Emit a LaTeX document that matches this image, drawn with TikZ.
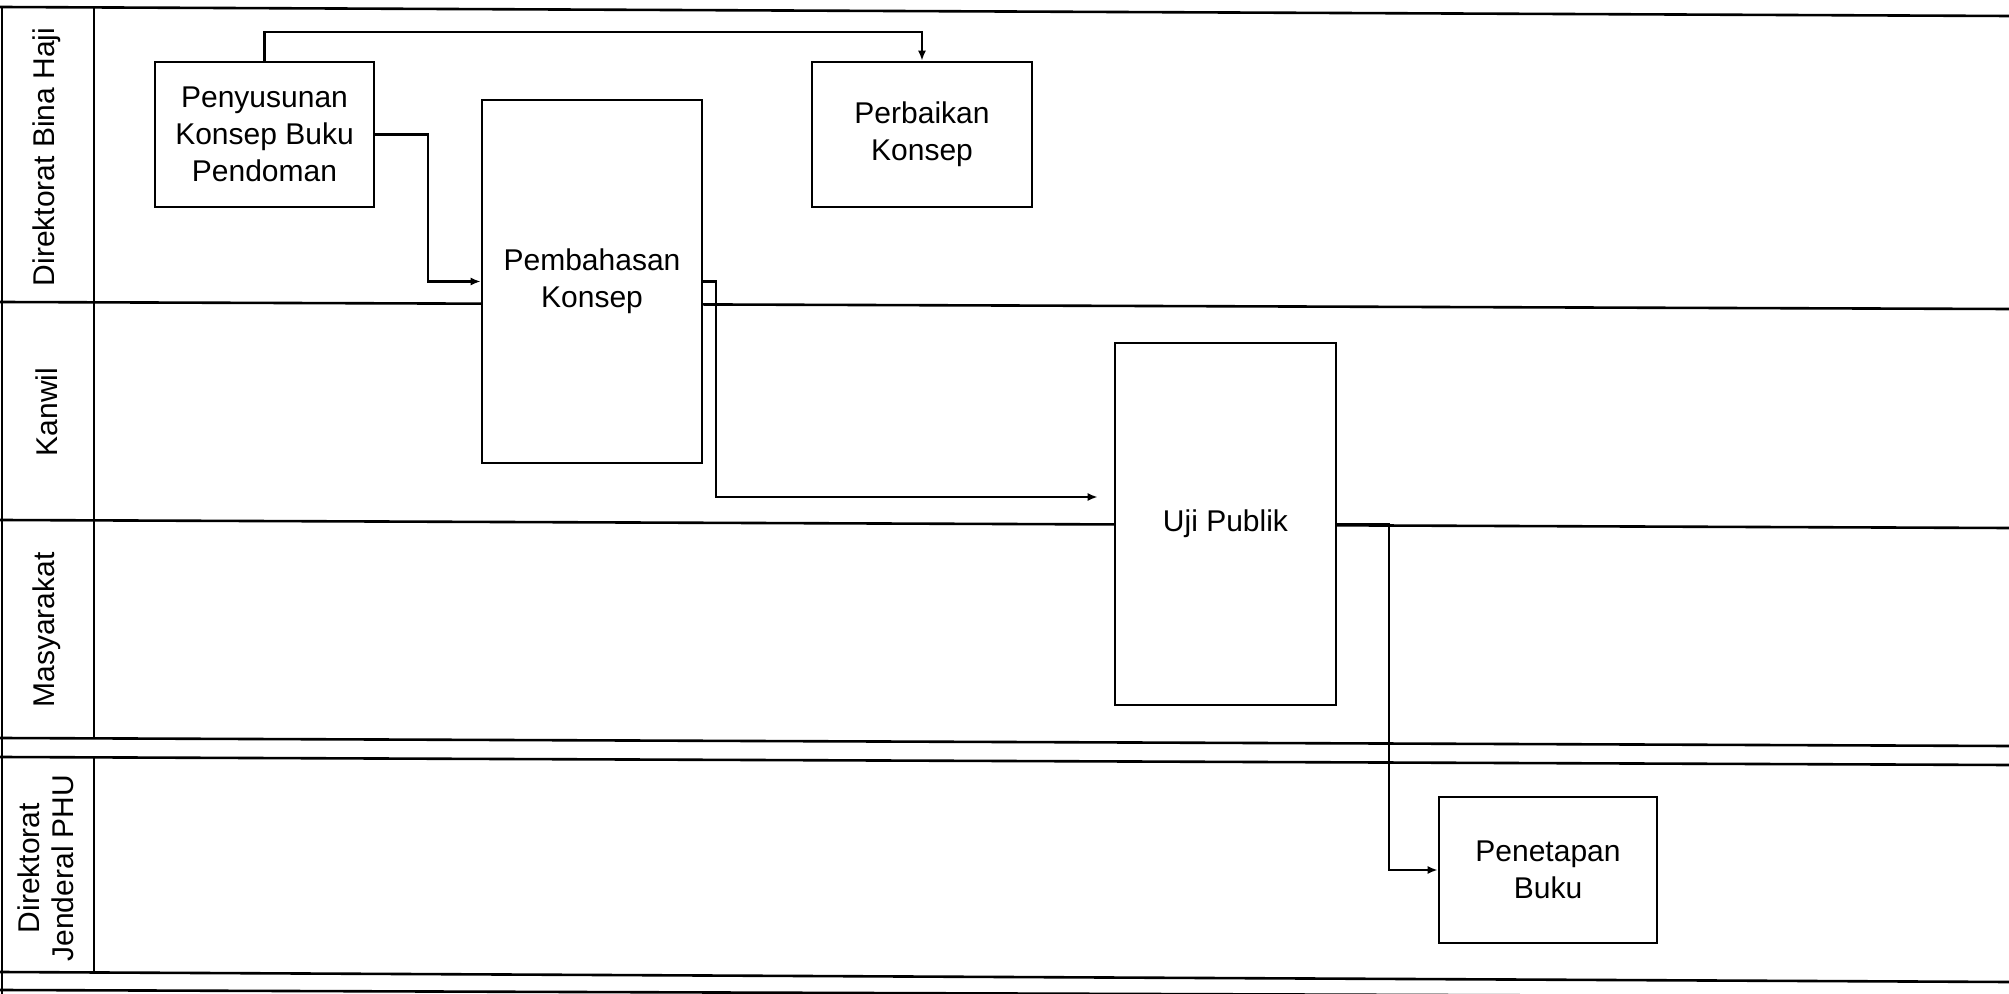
\documentclass[tikz,border=0pt]{standalone}
\usepackage{fontspec}
\setmainfont{Liberation Sans}
\usetikzlibrary{arrows.meta}
\begin{document}
\begin{tikzpicture}[x=0.5pt,y=-0.5pt,
  proc/.style={draw, line width=1.3pt, fill=white, rectangle, inner sep=0pt, align=center, font=\fontsize{15}{18.5}\selectfont},
  lane/.style={line width=1.3pt},
  arr/.style={line width=1.2pt, -{Latex[length=5pt,width=4pt]}},
  lbl/.style={rotate=90, align=center, font=\fontsize{15}{17}\selectfont, inner sep=0pt}]
\useasboundingbox (0,0) rectangle (2009,994);
% lane grid
\draw[lane] (0,7) -- (2009,16);
\draw[lane] (0,302) -- (2009,309);
\draw[lane] (0,520) -- (2009,528);
\draw[lane] (0,738) -- (2009,746);
\draw[lane] (0,757) -- (2009,765);
\draw[lane] (0,972) -- (2009,982);
\draw[lane] (0,990) -- (2009,997);
\draw[lane] (2,7) -- (2,994);
\draw[lane] (94,7) -- (94,738);
\draw[lane] (94,757) -- (94,972);
% lane labels
\node[lbl] (l1) at (47,157) {Direktorat Bina Haji};
\node[lbl] (l2) at (47,412) {Kanwil};
\node[lbl] (l3) at (47,630) {Masyarakat};
\node[lbl] (l4) at (46,868) {Direktorat\\Jenderal PHU};
% process boxes
\node[proc, minimum width=109.5pt, minimum height=72.5pt] (pen) at (264.5,134.5) {Penyusunan\\Konsep Buku\\Pendoman};
\node[proc, minimum width=110pt, minimum height=72.5pt] (perb) at (922,134.5) {Perbaikan\\Konsep};
\node[proc, minimum width=110pt, minimum height=181.5pt] (pemb) at (592,281.5) {Pembahasan\\Konsep};
\node[proc, minimum width=110.5pt, minimum height=181pt] (uji) at (1225.5,524) {Uji Publik};
\node[proc, minimum width=109pt, minimum height=73pt] (pnt) at (1548,870) {Penetapan\\Buku};
% connectors
\coordinate (t1) at (0,32);
\coordinate (j1) at (428,0);
\coordinate (j2) at (716,497);
\coordinate (j3) at (1389,0);
\draw[arr] (pen.north) |- (perb.north |- t1) -- (perb.north);
\draw[arr] (pen.east) -| (j1 |- pemb.west) -- (pemb.west);
\draw[arr, shorten >=8pt] (pemb.east) -| (j2) -- (uji.west |- j2);
\draw[arr] (uji.east) -| (j3 |- pnt.west) -- (pnt.west);
\end{tikzpicture}
\end{document}
